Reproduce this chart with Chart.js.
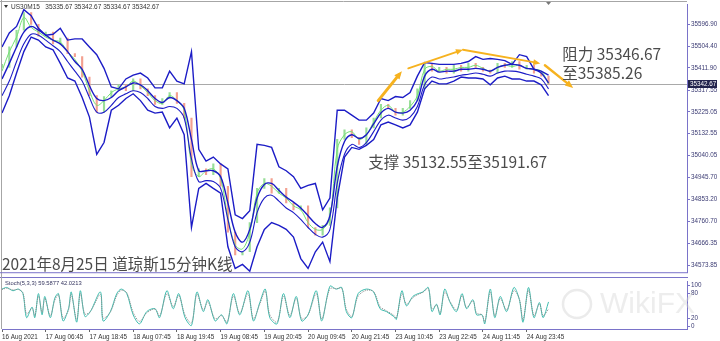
<!DOCTYPE html>
<html>
<head>
<meta charset="utf-8">
<script src="https://cdn.jsdelivr.net/npm/chart.js@4.4.1/dist/chart.umd.min.js"></script>
<style>
  html, body { margin: 0; padding: 0; background: #fff; }
  #wrap { position: relative; width: 720px; height: 341px; overflow: hidden; background: #fff; }
  #priceChart { position: absolute; left: 0; top: 0; }
  #stochChart { position: absolute; left: 0; top: 277px; }
</style>
</head>
<body>
<div id="wrap">
  <canvas id="priceChart" width="720" height="277"></canvas>
  <canvas id="stochChart" width="720" height="64"></canvas>
</div>
<script>
// --- data (US30 M15, bar index on x) ---
const bars = [0,8,16,24,32,40,48,56,64,72,80,88,96,104,112,120,128,136,144,152,
  160,168,176,184,192,200,208,216,224,232,240,248,256,264,272,280,288,296,304,312,
  320,328,336,344,352,360,368,376,384,392,400,408,416,424,432,440,448,456,464,472,
  480,488,496,504,512,520,528,536,544,552,560,568,576,584,592,600];

const upperBand = [35501,35560,35588,35659,35634,35580,35551,35555,35580,35530,
  35535,35535,35501,35468,35410,35331,35323,35365,35381,35390,
  35369,35327,35327,35398,35356,35344,35481,35066,35016,35033,
  35004,34983,34788,34772,34805,35087,35083,35074,34992,34975,
  34950,34900,34913,34921,34809,34859,35232,35232,35211,35190,
  35190,35220,35282,35273,35290,35286,35307,35377,35435,35431,
  35427,35427,35427,35431,35439,35460,35448,35452,35448,35443,
  35427,35468,35460,35406,35398,35381];

const middleBand = [35365,35431,35501,35564,35588,35572,35551,35530,35514,35481,
  35439,35406,35336,35282,35273,35286,35315,35331,35348,35340,
  35315,35282,35265,35286,35273,35240,35108,34975,34975,34975,
  34950,34838,34714,34672,34726,34859,34917,34921,34892,34863,
  34842,34817,34784,34751,34734,34784,34992,35099,35128,35112,
  35128,35174,35220,35240,35224,35220,35232,35273,35377,35406,
  35394,35398,35398,35406,35406,35410,35406,35398,35414,35423,
  35427,35423,35410,35406,35390,35348];

const innerBand = [35294,35356,35439,35514,35555,35551,35530,35506,35481,35439,
  35398,35356,35286,35224,35224,35253,35286,35302,35315,35307,
  35282,35248,35240,35248,35240,35199,35025,34929,34933,34929,
  34900,34768,34652,34631,34672,34797,34859,34871,34846,34817,
  34797,34768,34734,34705,34693,34726,34921,35045,35087,35074,
  35095,35141,35190,35211,35199,35190,35203,35248,35340,35373,
  35365,35369,35373,35381,35385,35390,35385,35377,35390,35398,
  35398,35394,35385,35377,35365,35323];

const lowerBand = [35220,35294,35390,35481,35543,35530,35501,35489,35431,35369,
  35356,35286,35203,35045,35095,35232,35253,35282,35302,35273,
  35232,35220,35224,35157,35199,35128,34734,34900,34921,34900,
  34880,34652,34560,34577,34548,34652,34726,34755,34743,34726,
  34693,34602,34560,34631,34672,34589,34859,35033,35074,35066,
  35083,35108,35170,35182,35170,35157,35170,35224,35323,35356,
  35344,35344,35356,35373,35369,35369,35365,35340,35369,35377,
  35365,35365,35356,35356,35340,35294];

const fastMA = [35398,35481,35543,35626,35584,35564,35543,35530,35522,35481,
  35448,35398,35315,35253,35273,35307,35323,35331,35356,35336,
  35307,35273,35261,35294,35273,35232,35004,34950,34975,34983,
  34942,34776,34660,34643,34714,34880,34921,34909,34880,34859,
  34826,34809,34755,34726,34726,34776,35066,35128,35141,35108,
  35128,35182,35232,35253,35224,35224,35248,35294,35406,35418,
  35398,35406,35406,35414,35414,35423,35410,35398,35414,35423,
  35418,35423,35410,35406,35398,35344];

const closes = [35414,35501,35572,35647,35597,35547,35564,35514,35539,35472,
  35460,35373,35294,35224,35290,35315,35340,35315,35365,35323,
  35294,35257,35282,35307,35261,35199,34950,34983,34958,35004,
  34909,34714,34618,34631,34755,34900,34942,34880,34900,34838,
  34809,34826,34734,34701,34743,34817,35108,35149,35116,35087,
  35157,35199,35257,35240,35211,35240,35273,35323,35431,35398,
  35414,35390,35423,35398,35431,35414,35398,35390,35431,35414,
  35439,35406,35423,35390,35377,35343];

const lastPrice = 35342.67;
const priceTicks = [35596.90,35504.40,35411.90,35317.55,35225.05,35132.55,
  35040.05,34945.70,34853.20,34760.70,34666.35,34573.85];

const labelBars = [0,48,96,144,192,240,288,336,384,432,480,528,576];
const timeLabels = ['16 Aug 2021','17 Aug 06:45','17 Aug 18:45','18 Aug 07:45','18 Aug 19:45',
  '19 Aug 08:45','19 Aug 20:45','20 Aug 09:45','20 Aug 21:45','23 Aug 10:45',
  '23 Aug 22:45','24 Aug 11:45','24 Aug 23:45'];

const stochBars = [0,5,12,18,23,27,33,36,40,44,47,53,58,62,67,73,76,82,86,91,
  97,108,111,119,126,131,137,144,151,159,168,173,181,188,194,201,208,214,221,226,
  234,241,247,254,261,270,276,283,289,294,302,309,316,323,329,336,345,351,360,367,
  373,378,384,391,400,408,415,422,430,433,439,444,451,457,462,468,472,477,481,486,
  492,499,505,510,517,521,527,530,536,541,547,554,562,568,572,578,584,590,594,600];
const stochMain = [91,95,87,91,80,21,47,21,80,28,73,21,69,80,13,43,84,10,87,24,
  36,84,13,36,80,91,80,28,6,36,43,21,87,43,80,21,2,84,36,65,
  13,28,6,80,28,87,13,58,91,21,6,80,21,73,13,28,87,13,98,91,
  95,36,21,80,91,84,43,36,24,17,87,50,73,80,84,95,36,54,28,91,
  58,36,80,43,65,28,28,6,91,21,73,36,95,65,10,95,21,58,21,59.59];
const stochSignal = [90,93,89,90,82,30,44,26,74,34,68,26,64,77,20,40,78,16,80,30,
  36,78,20,35,75,88,82,34,12,33,42,25,80,48,75,27,8,78,40,60,
  18,26,10,74,32,80,18,54,86,28,10,74,26,68,18,28,80,18,92,92,
  93,42,24,74,88,85,48,38,27,20,80,54,70,78,83,92,42,52,32,84,
  60,40,75,46,62,32,28,10,84,26,68,40,88,66,16,88,26,55,26,42.02];

// hand-drawn annotations (bar index / price)
const arrowFromBar = [413, 446, 506, 596];
const arrowFromPrice = [35273, 35410, 35489, 35423];
const arrowToBar = [439, 506, 591, 627];
const arrowToPrice = [35398, 35489, 35431, 35327];

const noteTexts = ['阻力 35346.67', '至35385.26', '支撑 35132.55至35191.67', '2021年8月25日 道琼斯15分钟K线'];
const noteBars = [615, 615, 402, 0];
const notePrices = [35472, 35389, 35012, 34577];

// --- styles ---
const axisBlue = '#7a73c9';
const bandBlue = '#1c1cc6';
const labelColor = '#3b3b73';
Chart.defaults.font.family = '"Liberation Sans", Arial, sans-serif';

function pts(xs, ys) {
  return xs.map((x, i) => ({x: x, y: ys[i]}));
}

function lineSet(values, color, width, tension, order) {
  return {
    type: 'line',
    data: pts(bars, values),
    borderColor: color,
    borderWidth: width,
    pointRadius: 0,
    tension: tension,
    fill: false,
    order: order
  };
}

function drawArrow(ctx, x0, y0, x1, y1, w, head) {
  const a = Math.atan2(y1 - y0, x1 - x0);
  const c = Math.cos(a), s = Math.sin(a);
  ctx.lineWidth = w;
  ctx.beginPath();
  ctx.moveTo(x0, y0);
  ctx.lineTo(x1 - c * head * 0.6, y1 - s * head * 0.6);
  ctx.stroke();
  ctx.beginPath();
  ctx.moveTo(x1, y1);
  ctx.lineTo(x1 - head * c + head * 0.42 * s, y1 - head * s - head * 0.42 * c);
  ctx.lineTo(x1 - head * c - head * 0.42 * s, y1 - head * s + head * 0.42 * c);
  ctx.closePath();
  ctx.fill();
}

// decorations of the price panel
const mainDecor = {
  id: 'mainDecor',
  beforeDatasetsDraw(chart) {
    const {ctx, chartArea: a, scales: {y}} = chart;
    const py = Math.round(y.getPixelForValue(lastPrice)) + 0.5;
    ctx.save();
    ctx.strokeStyle = '#a9a9a9';
    ctx.lineWidth = 1;
    ctx.beginPath();
    ctx.moveTo(a.left, py);
    ctx.lineTo(a.right, py);
    ctx.stroke();
    // symbol header
    ctx.fillStyle = '#333';
    ctx.beginPath();
    ctx.moveTo(4, 5); ctx.lineTo(8, 5); ctx.lineTo(6, 8); ctx.closePath();
    ctx.fill();
    ctx.font = '6.5px "Liberation Sans"';
    ctx.textBaseline = 'middle';
    ctx.fillText('US30M15   35335.67 35342.67 35334.67 35342.67', 11, 7);
    ctx.restore();
  },
  afterDatasetsDraw(chart) {
    const {ctx, scales: {x, y}} = chart;
    ctx.save();
    ctx.strokeStyle = '#f6b21f';
    ctx.fillStyle = '#f6b21f';
    ctx.lineCap = 'round';
    const widths = [3, 1.8, 1.8, 2.4];
    const heads = [8, 7, 7, 8];
    arrowFromBar.forEach((b, i) => {
      drawArrow(ctx, x.getPixelForValue(b), y.getPixelForValue(arrowFromPrice[i]),
        x.getPixelForValue(arrowToBar[i]), y.getPixelForValue(arrowToPrice[i]), widths[i], heads[i]);
    });
    const sizes = [15.5, 15.5, 15.5, 15.5];
    ctx.fillStyle = '#4b4b4b';
    ctx.textAlign = 'left';
    ctx.textBaseline = 'middle';
    noteTexts.forEach((t, i) => {
      ctx.font = sizes[i] + 'px "Noto Sans CJK SC", "Noto Sans", sans-serif';
      ctx.fillText(t, x.getPixelForValue(noteBars[i]), y.getPixelForValue(notePrices[i]));
    });
    ctx.restore();
  },
  afterDraw(chart) {
    const {ctx, chartArea: a, scales: {x, y}} = chart;
    ctx.save();
    ctx.lineWidth = 1;
    ctx.strokeStyle = '#a6a6a6';
    ctx.beginPath();
    ctx.moveTo(0, 1.5); ctx.lineTo(a.right, 1.5);
    ctx.moveTo(1.5, 0); ctx.lineTo(1.5, chart.height);
    ctx.stroke();
    ctx.strokeStyle = axisBlue;
    ctx.beginPath();
    ctx.moveTo(0, a.bottom + 0.5); ctx.lineTo(a.right + 1, a.bottom + 0.5);
    ctx.stroke();
    // current bar marker
    const mx = x.getPixelForValue(bars[bars.length - 1]);
    ctx.fillStyle = '#777';
    ctx.beginPath();
    ctx.moveTo(mx - 2.5, 2); ctx.lineTo(mx + 2.5, 2); ctx.lineTo(mx, 5); ctx.closePath();
    ctx.fill();
    // last price box
    const py = Math.round(y.getPixelForValue(lastPrice));
    ctx.fillStyle = '#23244d';
    ctx.fillRect(a.right + 1, py - 4, 29, 8);
    ctx.fillStyle = '#fff';
    ctx.font = '6.3px "Liberation Sans"';
    ctx.textBaseline = 'middle';
    ctx.fillText(lastPrice.toFixed(2), a.right + 3, py + 0.5);
    ctx.restore();
  }
};

const priceChart = new Chart(document.getElementById('priceChart').getContext('2d'), {
  type: 'line',
  data: {
    datasets: [
      {
        type: 'bar',
        data: bars.map((b, i) => ({x: b, y: [i ? closes[i - 1] : closes[0], closes[i]]})),
        backgroundColor: bars.map((b, i) => (i && closes[i] < closes[i - 1]) ? '#f3a090' : '#98de98'),
        barThickness: 1.5,
        minBarLength: 3,
        order: 10
      },
      lineSet(fastMA, '#74e074', 1, 0.35, 5),
      lineSet(innerBand, bandBlue, 1.1, 0.35, 3),
      lineSet(middleBand, bandBlue, 1.4, 0.35, 2),
      lineSet(upperBand, bandBlue, 1.4, 0, 1),
      lineSet(lowerBand, bandBlue, 1.4, 0, 1)
    ]
  },
  options: {
    responsive: false,
    animation: false,
    normalized: true,
    layout: {padding: {left: 2, top: 2, right: 0, bottom: 1}},
    plugins: {legend: {display: false}, tooltip: {enabled: false}},
    scales: {
      x: {type: 'linear', min: 0, max: 752, offset: false, grid: {offset: false}, display: false},
      y: {
        type: 'linear',
        position: 'right',
        min: 34544,
        max: 35680,
        afterBuildTicks: s => { s.ticks = priceTicks.map(v => ({value: v})); },
        afterFit: s => { s.width = 33; },
        ticks: {
          color: labelColor,
          font: {size: 6.3},
          padding: 1,
          autoSkip: false,
          callback: v => Number(v).toFixed(2)
        },
        grid: {drawOnChartArea: false, drawTicks: true, tickLength: 3, color: axisBlue},
        border: {display: true, color: axisBlue, width: 1}
      }
    }
  },
  plugins: [mainDecor]
});

// decorations of the stochastic panel
const stochDecor = {
  id: 'stochDecor',
  beforeDatasetsDraw(chart) {
    const {ctx, chartArea: a} = chart;
    ctx.save();
    // faint watermark
    ctx.strokeStyle = 'rgba(205,205,205,0.4)';
    ctx.lineWidth = 2.5;
    ctx.beginPath();
    ctx.arc(577, 27, 14, 0, Math.PI * 2);
    ctx.stroke();
    ctx.fillStyle = 'rgba(210,210,210,0.4)';
    ctx.font = '30px "Liberation Sans"';
    ctx.textBaseline = 'middle';
    ctx.fillText('WikiFX', 600, 28);
    ctx.fillStyle = '#35355f';
    ctx.font = '5.8px "Liberation Sans"';
    ctx.fillText('Stoch(5,3,3) 59.5877 42.0213', a.left + 3, 6);
    ctx.restore();
  },
  afterDraw(chart) {
    const {ctx, chartArea: a} = chart;
    ctx.save();
    ctx.lineWidth = 1;
    ctx.strokeStyle = axisBlue;
    ctx.beginPath();
    ctx.moveTo(0, 0.5); ctx.lineTo(a.right + 1, 0.5);
    ctx.stroke();
    ctx.strokeStyle = '#a6a6a6';
    ctx.beginPath();
    ctx.moveTo(1.5, 0); ctx.lineTo(1.5, a.bottom);
    ctx.stroke();
    ctx.restore();
  }
};

const stochChart = new Chart(document.getElementById('stochChart').getContext('2d'), {
  type: 'line',
  data: {
    datasets: [
      {
        data: pts(stochBars, stochSignal),
        borderColor: '#8c8c8c',
        borderWidth: 1,
        borderDash: [1, 1],
        pointRadius: 0,
        tension: 0.3,
        order: 1
      },
      {
        data: pts(stochBars, stochMain),
        borderColor: '#3cbcae',
        borderWidth: 1,
        pointRadius: 0,
        tension: 0.3,
        order: 2
      }
    ]
  },
  options: {
    responsive: false,
    animation: false,
    layout: {padding: {left: 2, top: 0, right: 0, bottom: 0}},
    plugins: {legend: {display: false}, tooltip: {enabled: false}},
    scales: {
      x: {
        type: 'linear',
        min: 0,
        max: 752,
        offset: false,
        afterBuildTicks: s => { s.ticks = labelBars.map(v => ({value: v})); },
        afterFit: s => { s.height = 12; },
        ticks: {
          align: 'start',
          maxRotation: 0,
          autoSkip: false,
          color: '#333',
          font: {size: 6.3},
          padding: 1,
          callback: (v, i) => timeLabels[i]
        },
        grid: {drawOnChartArea: false, drawTicks: true, tickLength: 3, color: '#666'},
        border: {display: true, color: axisBlue, width: 1}
      },
      y: {
        position: 'right',
        min: -6.7,
        max: 108.9,
        afterBuildTicks: s => { s.ticks = [0, 20, 80, 100].map(v => ({value: v})); },
        afterFit: s => { s.width = 33; },
        ticks: {color: labelColor, font: {size: 6.3}, padding: 1, autoSkip: false},
        grid: {drawOnChartArea: false, drawTicks: true, tickLength: 3, color: axisBlue},
        border: {display: true, color: axisBlue, width: 1}
      }
    }
  },
  plugins: [stochDecor]
});
</script>
</body>
</html>
